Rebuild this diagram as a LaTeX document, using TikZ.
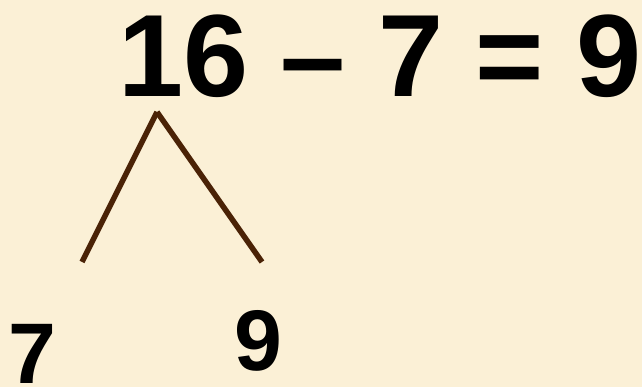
\documentclass[tikz,border=0pt]{standalone}
\usepackage{fontspec}
\setmainfont{Liberation Sans}
\definecolor{cbg}{HTML}{FBF0D6}
\definecolor{cbrown}{HTML}{4A2206}
\tikzset{
  every picture/.style={font=\bfseries},
  big/.style={font=\fontsize{117}{117}\selectfont\bfseries, inner sep=0pt, anchor=base west},
  part/.style={font=\fontsize{86}{86}\selectfont\bfseries, inner sep=0pt, anchor=base west},
  branch/.style={draw=cbrown, line width=5.5pt},
}
\begin{document}
\begin{tikzpicture}[x=1pt, y=-1pt]
  \fill[cbg] (0,0) rectangle (642,387);
  \useasboundingbox (0,0) rectangle (642,387);
  \node[big] (eq) at (118,97) {16 – 7 = 9};
  \coordinate (apex) at (157,112);
  \coordinate (lend) at (82,262);
  \coordinate (rend) at (262,262);
  \draw[branch] (apex) -- (lend);
  \draw[branch] (apex) -- (rend);
  \node[part] (seven) at (8,383) {7};
  \node[part] (nine) at (234,370) {9};
\end{tikzpicture}
\end{document}
